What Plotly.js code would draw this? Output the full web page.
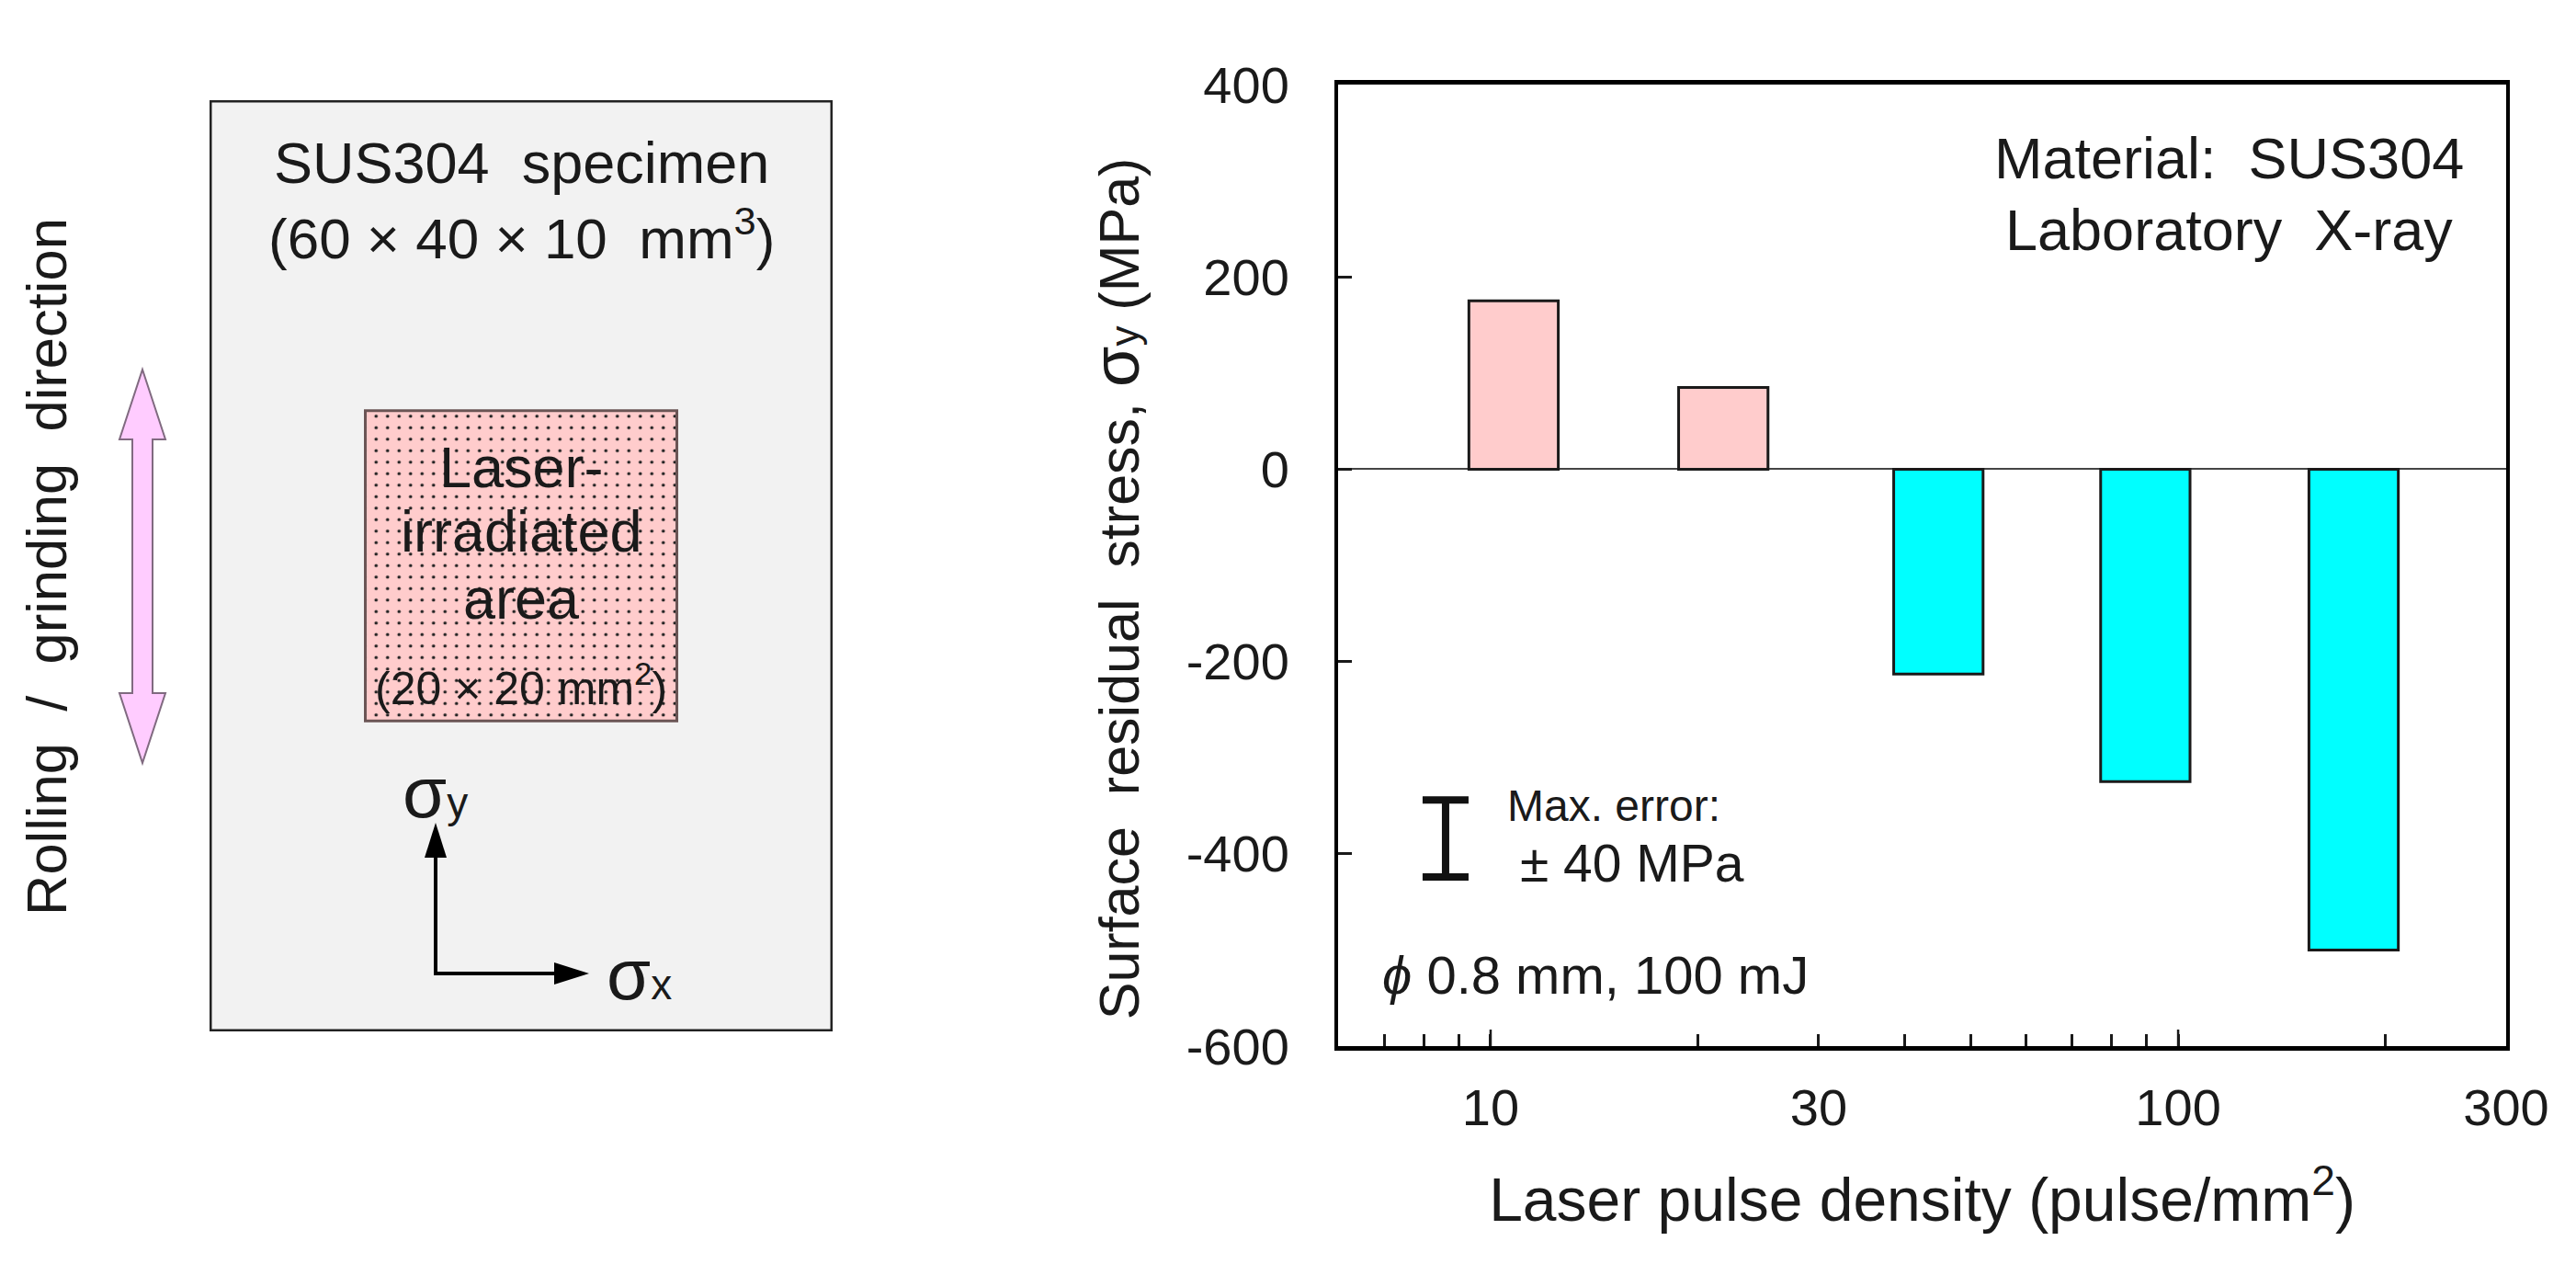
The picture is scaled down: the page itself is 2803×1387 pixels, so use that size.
<!DOCTYPE html>
<html><head><meta charset="utf-8">
<script src="https://cdn.plot.ly/plotly-3.0.1.min.js"></script>
<style>html,body{margin:0;padding:0;background:#fff}</style></head>
<body><div id="chart" style="width:2803px;height:1387px"></div>
<script>
// ---- data ----
const pulseDensity = [10.8, 21.8, 44.8, 89.6, 180];
const residualStress = [175, 85, -213, -325, -500];
const stressTicks = [400, 200, 0, -200, -400, -600];
const stressTickText = ['400', '200', '0', '-200', '-400', '-600'];
const densityTicks = [10, 30, 100, 300];
const densityTickText = ['10', '30', '100', '300'];
const densityMinorTicks = [7, 8, 9, 20, 40, 50, 60, 70, 80, 90, 200];
const densityLongTicks = [10, 100];
const errorMarkerDensity = [8.6];
const errorMarkerStress = [-384];
const maxError = [40];
const specimenWidth = [40], specimenHeight = [60];
const areaCentre = [20], areaSize = [20], areaBase = [20];

// ---- helpers ----
const W = 2803, H = 1387, FONT = 'Liberation Sans, Arial, sans-serif', INK = '#1a1a1a';
const px = x => x / W, py = y => 1 - y / H;
const path = pts => 'M' + pts.map(p => px(p[0]) + ',' + py(p[1])).join('L') + 'Z';
const label = (x, y, text, size, extra) => Object.assign({
  xref: 'paper', yref: 'paper', x: px(x), y: py(y), text, showarrow: false,
  font: {family: FONT, size, color: INK}, xanchor: 'center', yanchor: 'middle'
}, extra || {});

// bars keep a constant pixel width on the log axis
const barRatio = Math.pow(10, 0.065);
const barLeft = pulseDensity.map(d => d / barRatio), barRight = pulseDensity.map(d => d * barRatio);

const traces = [
  {type: 'bar', x: specimenWidth.map(w => w / 2), y: specimenHeight, width: specimenWidth, base: [0],
   xaxis: 'x2', yaxis: 'y2', cliponaxis: false, hoverinfo: 'skip',
   marker: {color: '#F2F2F2', line: {color: '#222222', width: 5}}},
  {type: 'bar', x: areaCentre, y: areaSize, width: areaSize, base: areaBase,
   xaxis: 'x2', yaxis: 'y2', cliponaxis: false, hoverinfo: 'skip',
   marker: {color: '#FFCCCC', line: {color: '#6b5555', width: 3},
            pattern: {shape: '.', fgcolor: '#222222', bgcolor: '#FFCCCC', size: 12.5, solidity: 0.065, fillmode: 'replace'}}},
  {type: 'bar', x: barLeft.map((l, i) => (l + barRight[i]) / 2), y: residualStress,
   width: barLeft.map((l, i) => barRight[i] - l), customdata: pulseDensity,
   xaxis: 'x', yaxis: 'y', hovertemplate: '%{customdata}: %{y} MPa<extra></extra>',
   marker: {color: residualStress.map(v => v > 0 ? '#FFCCCC' : '#00FFFF'), line: {color: INK, width: 3}}},
  {type: 'scatter', mode: 'markers', x: errorMarkerDensity, y: errorMarkerStress, xaxis: 'x', yaxis: 'y',
   marker: {size: 1, opacity: 0}, hoverinfo: 'skip',
   error_y: {type: 'data', array: maxError, visible: true, color: '#111111', thickness: 8, width: 25}}
];

const sigma = s => 'σ<span style="font-size:46px">' + s + '</span>';
const annotations = [
  label(567, 177, 'SUS304&nbsp; specimen', 63),
  label(567, 255, '(60 × 40 × 10&nbsp; mm<sup>3</sup>)', 62),
  label(567, 508, 'Laser-', 63),
  label(567, 578, 'irradiated', 63),
  label(567, 651, 'area', 63),
  label(567, 745, '(20 × 20 mm<sup>2</sup>)', 50),
  label(473, 862, sigma('y'), 78),
  label(695, 1060, sigma('x'), 78),
  label(51, 617, 'Rolling&nbsp; /&nbsp; grinding&nbsp; direction', 61.5, {textangle: -90}),
  label(2425, 172, 'Material:&nbsp; SUS304', 63),
  label(2425, 250, 'Laboratory&nbsp; X-ray', 63),
  label(1638, 876, 'Max. error:', 48, {xanchor: 'left'}),
  label(1652, 939, '±&nbsp;40 MPa', 57, {xanchor: 'left'}),
  label(1502, 1060, '<i>ϕ</i> 0.8 mm, 100 mJ', 58, {xanchor: 'left'})
];

const arrowX = 155, pink = {fillcolor: '#FFCCFF', line: {color: '#806a80', width: 2}, type: 'path', xref: 'paper', yref: 'paper'};
const shapes = [
  Object.assign({}, pink, {path: path([[arrowX, 402], [arrowX + 25, 478], [arrowX + 11, 478], [arrowX + 11, 754], [arrowX + 25, 754],
    [arrowX, 830], [arrowX - 25, 754], [arrowX - 11, 754], [arrowX - 11, 478], [arrowX - 25, 478]])}),
  {type: 'line', xref: 'paper', yref: 'paper', x0: px(474), x1: px(474), y0: py(1059), y1: py(925), line: {color: '#000', width: 4}},
  {type: 'line', xref: 'paper', yref: 'paper', x0: px(472), x1: px(610), y0: py(1059), y1: py(1059), line: {color: '#000', width: 4}},
  {type: 'path', xref: 'paper', yref: 'paper', fillcolor: '#000', line: {width: 0}, path: path([[474, 895], [486, 933], [462, 933]])},
  {type: 'path', xref: 'paper', yref: 'paper', fillcolor: '#000', line: {width: 0}, path: path([[641, 1059], [603, 1047], [603, 1071]])}
].concat(densityLongTicks.map(d => ({
  type: 'line', xref: 'x', yref: 'paper', x0: d, x1: d, y0: py(1138), y1: py(1120), line: {color: INK, width: 2.5}
})));

const layout = {
  width: W, height: H, margin: {l: 0, r: 0, t: 0, b: 0}, paper_bgcolor: '#fff', plot_bgcolor: 'rgba(0,0,0,0)',
  showlegend: false, barmode: 'overlay', font: {family: FONT, color: INK},
  xaxis: {
    domain: [px(1456), px(2727)], type: 'log', range: [Math.log10(6), Math.log10(300)], anchor: 'y',
    tickmode: 'array', tickvals: densityTicks, ticktext: densityTickText,
    ticks: 'inside', ticklen: 13, tickwidth: 2.5, tickcolor: INK, tickfont: {size: 56, color: INK, family: FONT},
    ticklabelstandoff: 14,
    minor: {tickmode: 'array', tickvals: densityMinorTicks, ticks: 'inside', ticklen: 13, tickwidth: 2.5, tickcolor: INK, showgrid: false},
    showgrid: false, zeroline: false, showline: true, linecolor: '#000', linewidth: 5, mirror: true,
    title: {text: 'Laser pulse density (pulse/mm<sup>2</sup>)', font: {size: 66, color: INK, family: FONT}, standoff: 48}
  },
  yaxis: {
    domain: [py(1138), py(92)], range: [-600, 400], anchor: 'x',
    tickmode: 'array', tickvals: stressTicks, ticktext: stressTickText,
    ticks: 'inside', ticklen: 15, tickwidth: 3, tickcolor: INK, tickfont: {size: 56, color: INK, family: FONT},
    ticklabelstandoff: 38,
    showgrid: false, zeroline: true, zerolinecolor: '#444', zerolinewidth: 2,
    showline: true, linecolor: '#000', linewidth: 4, mirror: true,
    title: {text: 'Surface&nbsp; residual&nbsp; stress, <span style="font-size:72px">σ</span><span style="font-size:44px">y</span> (MPa)&nbsp;&nbsp;&nbsp;', font: {size: 61, color: INK, family: FONT}, standoff: 32}
  },
  xaxis2: {domain: [px(228), px(906)], range: [0, 40], visible: false, fixedrange: true, anchor: 'y2'},
  yaxis2: {domain: [py(1122), py(109)], range: [0, 60], visible: false, fixedrange: true, anchor: 'x2'},
  annotations, shapes
};
Plotly.newPlot('chart', traces, layout, {displayModeBar: false, responsive: false});
</script></body></html>
